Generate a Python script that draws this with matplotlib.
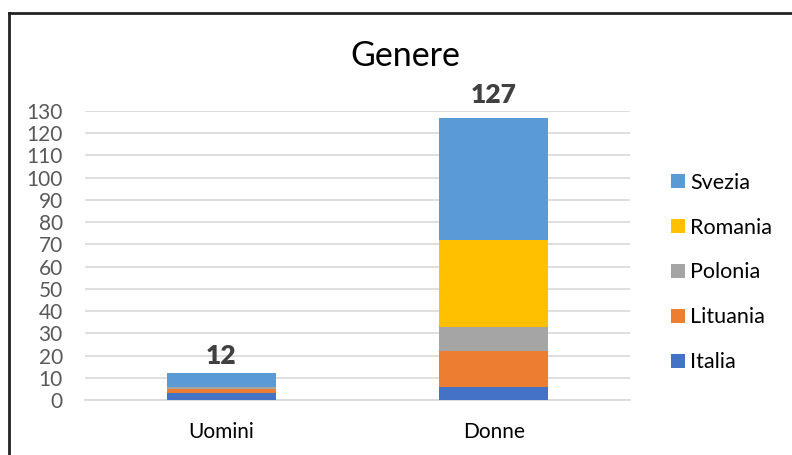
import matplotlib
matplotlib.use("Agg")
import matplotlib.pyplot as plt
from matplotlib.patches import Patch
from matplotlib.lines import Line2D
import numpy as np

categories = ["Uomini", "Donne"]
series_names = ["Italia", "Lituania", "Polonia", "Romania", "Svezia"]
italia = [3, 6]
lituania = [2, 16]
polonia = [1, 11]
romania = [0, 39]
svezia = [6, 55]
totals = [12, 127]
yticks = list(range(0, 131, 10))

colors = ["#4472C4", "#ED7D31", "#A5A5A5", "#FFC000", "#5B9BD5"]
label_gaps_pt = [6.5, 10.8]

plt.rcParams['font.family'] = ['Lato', 'DejaVu Sans']

fig = plt.figure(figsize=(7.92, 4.55), dpi=100)
ax = fig.add_axes([85/792, (455-400)/455, (630-85)/792, (400-111)/455])

x = np.arange(len(categories))
bottom = np.zeros(len(categories))
for name, vals, c in zip(series_names, [italia, lituania, polonia, romania, svezia], colors):
    ax.bar(x, vals, width=0.4, bottom=bottom, color=c, label=name, zorder=3)
    bottom += np.array(vals)

for xi, t, g in zip(x, totals, label_gaps_pt):
    ax.annotate(str(t), xy=(xi, t), xytext=(0, g), textcoords='offset points',
                ha='center', va='baseline', fontsize=19,
                fontweight='heavy', color='#404040')

ax.set_xlim(-0.5, 1.5)
ax.set_ylim(0, 130)
ax.set_yticks(yticks)
ax.set_xticks(x)
ax.set_xticklabels(categories, fontsize=15, color='#000000')
ax.tick_params(axis='y', labelsize=15, labelcolor='#595959', length=0, pad=16)
ax.tick_params(axis='x', length=0, pad=16)
ax.grid(axis='y', color='#D9D9D9', linewidth=1.2, zorder=0)
for s in ['top', 'right', 'left']:
    ax.spines[s].set_visible(False)
ax.spines['bottom'].set_color('#D9D9D9')
ax.spines['bottom'].set_linewidth(1.2)

fig.text(405/792, (455-56)/455, "Genere", ha='center', va='center', fontsize=24.5, color='#000000')

handles = [Patch(facecolor=c, edgecolor='none') for c in colors][::-1]
labels = series_names[::-1]
fig.legend(handles, labels, loc='center left', bbox_to_anchor=(671/792, (455-272.5)/455),
           frameon=False, fontsize=15.5, handlelength=0.65, handleheight=0.65,
           handletextpad=0.25, labelspacing=1.16, borderpad=0, borderaxespad=0)

# chart border (left and top visible)
fig.add_artist(Line2D([9/792, 9/792], [0, (455-13)/455], color='#222222', linewidth=2, transform=fig.transFigure))
fig.add_artist(Line2D([9/792, 1.0], [(455-13)/455, (455-13)/455], color='#222222', linewidth=2, transform=fig.transFigure))

fig.savefig("out.png", dpi=100)
